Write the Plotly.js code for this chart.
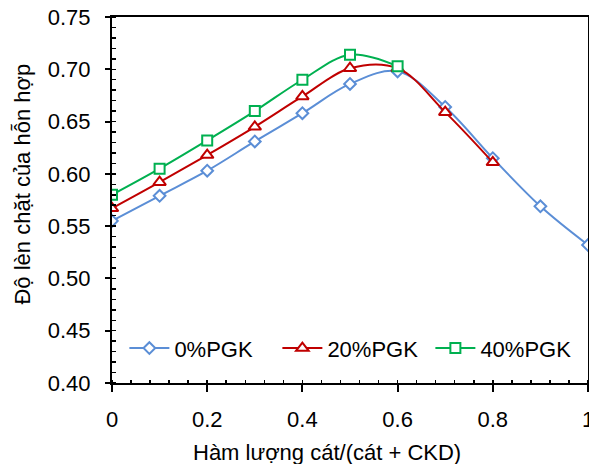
<!DOCTYPE html>
<html>
<head>
<meta charset="utf-8">
<script src="https://cdn.plot.ly/plotly-3.0.1.min.js"></script>
<style>
  html, body { margin: 0; padding: 0; background: #fff; }
  #chart { width: 589px; height: 464px; }
</style>
</head>
<body>
<div id="chart"></div>
<script>
// Sand ratio sand/(sand + CKD)
const ratio0 = [0, 0.1, 0.2, 0.3, 0.4, 0.5, 0.6, 0.7, 0.8, 0.9, 1.0];
const ratio20 = [0, 0.1, 0.2, 0.3, 0.4, 0.5, 0.6, 0.7, 0.8];
const ratio40 = [0, 0.1, 0.2, 0.3, 0.4, 0.5, 0.6];

// Packing density of the mix for each PGK content
const density0 = [0.555, 0.579, 0.603, 0.631, 0.658, 0.686, 0.698, 0.664, 0.615, 0.569, 0.532];
const density20 = [0.567, 0.592, 0.618, 0.645, 0.674, 0.701, 0.701, 0.659, 0.611];
const density40 = [0.580, 0.605, 0.632, 0.660, 0.690, 0.714, 0.703];

const seriesNames = ['0%PGK', '20%PGK', '40%PGK'];
const seriesColors = ['#5B8ED6', '#C00000', '#00B050'];

const xTitle = 'Hàm lượng cát/(cát + CKD)';
const yTitle = 'Độ lèn chặt của hỗn hợp';

const FONT = 'Liberation Sans, Arial, sans-serif';
const FS = 22;

function series(x, y, i, symbol, size) {
  return {
    x: x, y: y, name: seriesNames[i], type: 'scatter', mode: 'lines+markers',
    line: { color: seriesColors[i], width: 2, shape: 'spline', smoothing: 1 },
    marker: { symbol: symbol, size: size, color: '#fff',
              line: { color: seriesColors[i], width: 2 } }
  };
}

const traces = [
  series(ratio0, density0, 0, 'diamond', 9),
  series(ratio20, density20, 1, 'triangle-up', 11),
  series(ratio40, density40, 2, 'square', 10)
];

const layout = {
  width: 589, height: 464,
  margin: { l: 112, r: 1, t: 17, b: 81 },
  paper_bgcolor: '#fff', plot_bgcolor: '#fff',
  font: { family: FONT, size: FS, color: '#000' },
  showlegend: true,
  legend: {
    orientation: 'h', x: 0.026, y: 0.095, xanchor: 'left', yanchor: 'middle',
    bgcolor: 'rgba(0,0,0,0)', font: { family: FONT, size: FS },
    entrywidth: 98, entrywidthmode: 'pixels', itemwidth: 40
  },
  // axis titles sit slightly off-centre, so they are placed as paper annotations
  annotations: [
    { text: xTitle, xref: 'paper', yref: 'paper', x: 0.4517, y: -0.191,
      xanchor: 'center', yanchor: 'middle', showarrow: false,
      font: { family: FONT, size: FS } },
    { text: yTitle, xref: 'paper', yref: 'paper', x: -0.187, y: 0.545,
      xanchor: 'center', yanchor: 'middle', showarrow: false, textangle: -90,
      font: { family: FONT, size: FS } }
  ],
  xaxis: {
    range: [0, 1], dtick: 0.2, tick0: 0,
    showgrid: false, zeroline: false,
    showline: true, linecolor: '#000', linewidth: 2, mirror: true,
    ticks: 'outside', ticklen: 7, tickwidth: 2, tickcolor: '#000',
    ticklabelstandoff: 9, ticklabeloverflow: 'allow',
    minor: { dtick: 0.04, ticks: 'inside', ticklen: 3, tickwidth: 1.5, tickcolor: '#000', showgrid: false },
    tickfont: { family: FONT, size: FS }
  },
  xaxis2: {
    overlaying: 'x', matches: 'x', range: [0, 1], dtick: 0.2, tick0: 0,
    showgrid: false, zeroline: false, showline: false, showticklabels: false,
    ticks: 'inside', ticklen: 3, tickwidth: 2, tickcolor: '#000'
  },
  yaxis: {
    range: [0.40, 0.75], dtick: 0.05, tick0: 0.40, tickformat: '.2f',
    showgrid: false, zeroline: false,
    showline: true, linecolor: '#000', linewidth: 2, mirror: true,
    ticks: 'outside', ticklen: 5, tickwidth: 2, tickcolor: '#000',
    ticklabelstandoff: 10,
    minor: { dtick: 0.01, ticks: 'inside', ticklen: 4, tickwidth: 1.5, tickcolor: '#000', showgrid: false },
    tickfont: { family: FONT, size: FS }
  },
  yaxis2: {
    overlaying: 'y', matches: 'y', range: [0.40, 0.75], dtick: 0.05, tick0: 0.40,
    showgrid: false, zeroline: false, showline: false, showticklabels: false,
    ticks: 'inside', ticklen: 5, tickwidth: 2, tickcolor: '#000'
  }
};

Plotly.newPlot('chart', traces, layout, { staticPlot: true, displayModeBar: false });
</script>
</body>
</html>
